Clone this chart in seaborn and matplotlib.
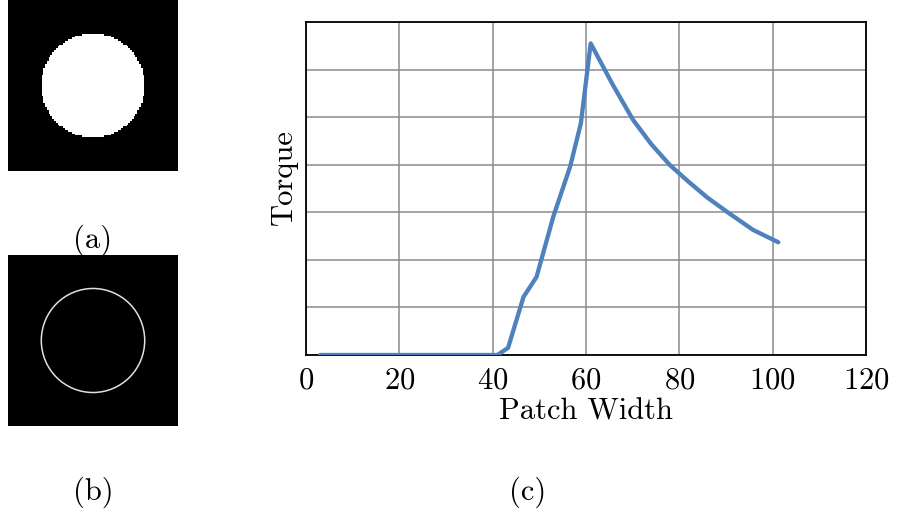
import numpy as np
import pandas as pd
import seaborn as sns
from matplotlib import pyplot as plt
from matplotlib.patches import Circle

# torque vs. patch width
patch_width = [3, 41, 43.3, 46.6, 49.4, 53.0, 56.6, 58.9, 61.0,
               65.8, 70.1, 74.0, 78.0, 82.0, 86.0, 90.5, 95.8, 101.2]
torque = [0.0, 0.0, 0.15, 1.22, 1.64, 2.91, 3.96, 4.87, 6.55,
          5.67, 4.94, 4.43, 3.99, 3.64, 3.31, 2.99, 2.63, 2.37]
x_ticks = [0, 20, 40, 60, 80, 100, 120]
panel_labels = ['(a)', '(b)', '(c)']

# small binary test images
IMG_SIZE = 96
RADIUS = 29.2

sns.set_style('white')
plt.rcParams.update({
    'font.family': 'cmr10',
    'mathtext.fontset': 'cm',
    'axes.formatter.use_mathtext': True,
    'font.size': 22,
    'text.color': 'black',
    'axes.labelcolor': 'black',
    'xtick.color': 'black',
    'ytick.color': 'black',
})

fig = plt.figure(figsize=(9.02, 5.14), dpi=100)

# (a) filled disk
yy, xx = np.mgrid[0:IMG_SIZE, 0:IMG_SIZE]
c = (IMG_SIZE - 1) / 2
disk = ((xx - c) ** 2 + (yy - c) ** 2 <= RADIUS ** 2).astype(float)

ax_a = fig.add_axes([8 / 902, 1 - 171 / 514, 170 / 902, 171 / 514])
ax_a.imshow(disk, cmap='gray', vmin=0, vmax=1, interpolation='nearest', aspect='auto')
ax_a.axis('off')

# (b) ring outline
ax_b = fig.add_axes([8 / 902, 1 - 426 / 514, 170 / 902, 171 / 514])
ax_b.imshow(np.zeros_like(disk), cmap='gray', vmin=0, vmax=1, aspect='auto')
ax_b.add_patch(Circle((c, c), RADIUS, fill=False, edgecolor='#e0e0e0', lw=1.1))
ax_b.axis('off')

# (c) torque curve
df = pd.DataFrame({'Patch Width': patch_width, 'Torque': torque})
ax = fig.add_axes([306 / 902, 1 - 355 / 514, 560 / 902, 333 / 514])
sns.lineplot(data=df, x='Patch Width', y='Torque', ax=ax, color='#4F81BD',
             linewidth=3.1, solid_capstyle='round', zorder=3)
ax.set_xlim(0, 120)
ax.set_ylim(0, 7)
ax.set_xticks(x_ticks)
ax.set_yticks(range(8))
ax.set_yticklabels([])
ax.tick_params(length=0, pad=9)
ax.grid(True, color='#8c8c8c', linewidth=1.1)
for s in ax.spines.values():
    s.set_color('black')
    s.set_linewidth(1.3)
ax.set_xlabel('Patch Width', labelpad=2)
ax.set_ylabel('Torque', labelpad=-3)
ax.yaxis.label.set_y(0.535)

fig.text(93 / 902, 1 - 240 / 514, panel_labels[0], ha='center', va='center')
fig.text(93 / 902, 1 - 492 / 514, panel_labels[1], ha='center', va='center')
fig.text(528 / 902, 1 - 492 / 514, panel_labels[2], ha='center', va='center')

plt.savefig('out.png', dpi=100)
plt.close()
